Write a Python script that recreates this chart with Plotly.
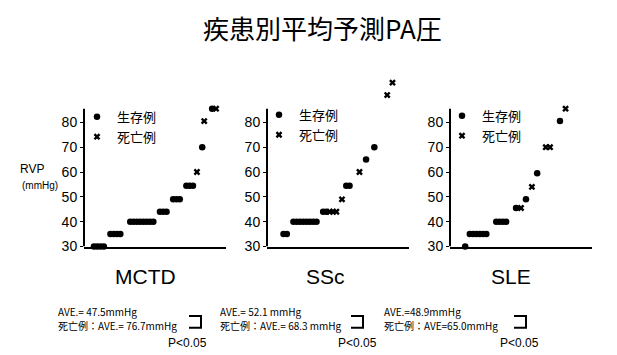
import plotly.graph_objects as go

W, H = 617, 355

title_text = "疾患別平均予測PA圧"
diseases = ["MCTD", "SSc", "SLE"]
legend_names = ["生存例", "死亡例"]
y_ticks = [30, 40, 50, 60, 70, 80]

# case order (x) and predicted PA pressure (y)
mctd_surv_x = [3, 4, 5, 6, 8, 9, 10, 11, 14, 15, 16, 17, 18, 19, 20, 21, 23, 24, 25, 27, 28, 29, 31, 32, 33, 35.8, 38.8]
mctd_surv_y = [30, 30, 30, 30, 35, 35, 35, 35, 40, 40, 40, 40, 40, 40, 40, 40, 44, 44, 44, 49, 49, 49, 54.5, 54.5, 54.5, 70, 85.5]
mctd_dead_x = [34.2, 36.4, 40]
mctd_dead_y = [60, 80.5, 85.5]

ssc_surv_x = [5, 6, 8, 9, 10, 11, 12, 13, 14, 15, 17, 18, 24, 25, 30, 32.5]
ssc_surv_y = [35, 35, 40, 40, 40, 40, 40, 40, 40, 40, 44, 44, 54.5, 54.5, 65, 70]
ssc_dead_x = [19, 20, 21, 22.7, 28, 36.4, 38]
ssc_dead_y = [44, 44, 44, 49, 60, 91, 96]

sle_surv_x = [4.6, 6, 7, 8, 9, 10, 11, 14, 15, 16, 17, 20, 23, 26.4, 33.3]
sle_surv_y = [30, 35, 35, 35, 35, 35, 35, 40, 40, 40, 40, 45.5, 49, 59.5, 80.5]
sle_dead_x = [21.5, 24.8, 29, 30.3, 35]
sle_dead_y = [45.5, 54, 70, 70, 85.5]

ave_lines = [
    ["AVE.= 47.5mmHg", "死亡例：AVE.= 76.7mmHg"],
    ["AVE.= 52.1 mmHg", "死亡例：AVE.= 68.3 mmHg"],
    ["AVE.=48.9mmHg", "死亡例：AVE=65.0mmHg"],
]
p_text = "P<0.05"

series = [
    (mctd_surv_x, mctd_surv_y, mctd_dead_x, mctd_dead_y),
    (ssc_surv_x, ssc_surv_y, ssc_dead_x, ssc_dead_y),
    (sle_surv_x, sle_surv_y, sle_dead_x, sle_dead_y),
]

JP = "Noto Sans CJK JP, sans-serif"
NUM = "Liberation Sans, Arial, sans-serif"

# layout in pixels
axis_left_px = [76, 259, 442]
axis_width_px = 142
px_per_unit = 2.54
y_bottom_px = 244
x_range = [0, 43]
y_range = [30, 98]
y_line_top = 85.5
y_top_px = y_bottom_px - (y_range[1] - y_range[0]) * px_per_unit

def px_x(p):
    return p / W

def px_y(p):
    return 1 - p / H

fig = go.Figure()
legend_keys = ["legend", "legend2", "legend3"]
for i, (sx, sy, dx, dy) in enumerate(series):
    xa = "x" if i == 0 else f"x{i+1}"
    ya = "y" if i == 0 else f"y{i+1}"
    fig.add_trace(go.Scatter(x=sx, y=sy, mode="markers", name=legend_names[0],
                             xaxis=xa, yaxis=ya, cliponaxis=False,
                             legend=legend_keys[i],
                             marker=dict(symbol="circle", size=6.5, color="black")))
    fig.add_trace(go.Scatter(x=dx, y=dy, mode="markers", name=legend_names[1],
                             xaxis=xa, yaxis=ya, cliponaxis=False,
                             legend=legend_keys[i],
                             marker=dict(symbol="x", size=6, color="black",
                                         line=dict(width=0))))

layout = dict(
    width=W, height=H, margin=dict(l=0, r=0, t=0, b=0),
    paper_bgcolor="white", plot_bgcolor="white",
    showlegend=True,
    font=dict(family=JP, color="black", size=12),
)
legend_pos = [(69, 96), (251, 94), (434, 95)]
shapes = []
for i in range(3):
    xk = "xaxis" if i == 0 else f"xaxis{i+1}"
    yk = "yaxis" if i == 0 else f"yaxis{i+1}"
    xa = "x" if i == 0 else f"x{i+1}"
    ya = "y" if i == 0 else f"y{i+1}"
    x0 = axis_left_px[i]
    layout[xk] = dict(domain=[px_x(x0), px_x(x0 + axis_width_px)], range=x_range,
                      anchor=ya,
                      showline=True, linewidth=2, linecolor="black",
                      showgrid=False, zeroline=False, showticklabels=False,
                      ticks="", fixedrange=True)
    layout[yk] = dict(domain=[px_y(y_bottom_px), px_y(y_top_px)], range=y_range,
                      anchor=xa,
                      showline=False,
                      showgrid=False, zeroline=False,
                      tickvals=y_ticks, ticks="outside", ticklen=3, tickwidth=1,
                      tickcolor="black",
                      tickfont=dict(family=NUM, size=14, color="black"))
    # y axis line only spans the labelled part of the scale
    shapes.append(dict(type="line", xref=f"{xa} domain", yref=ya,
                       x0=0, x1=0, y0=y_range[0], y1=y_line_top,
                       line=dict(color="black", width=2)))
    lx, ly = legend_pos[i]
    layout[legend_keys[i]] = dict(x=px_x(lx), y=px_y(ly), xanchor="left", yanchor="top",
                                  bgcolor="rgba(0,0,0,0)", itemwidth=30,
                                  font=dict(family=JP, size=13, color="black"))
fig.update_layout(**layout)

annotations = []
annotations.append(dict(text=title_text, x=px_x(314), y=px_y(20), xref="paper", yref="paper",
                        showarrow=False, font=dict(family=JP, size=26, color="black"),
                        xanchor="center", yanchor="middle"))
label_cx = [137, 318, 503]
for i, d in enumerate(diseases):
    annotations.append(dict(text=d, x=px_x(label_cx[i]), y=px_y(275), xref="paper", yref="paper",
                            showarrow=False, font=dict(family=NUM, size=21, color="black"),
                            xanchor="center", yanchor="middle"))
annotations.append(dict(text="RVP", x=px_x(24), y=px_y(165), xref="paper", yref="paper",
                        showarrow=False, font=dict(family=NUM, size=12, color="black"),
                        xanchor="center", yanchor="middle"))
annotations.append(dict(text="(mmHg)", x=px_x(32), y=px_y(182), xref="paper", yref="paper",
                        showarrow=False, font=dict(family=NUM, size=10, color="black"),
                        xanchor="center", yanchor="middle"))
text_left = [48, 210, 374]
p_cx = [180, 349, 511]
bracket_x = [(181, 193), (343, 355), (506, 518)]
line_y = [310.5, 325]
for i in range(3):
    for j in range(2):
        annotations.append(dict(text=ave_lines[i][j], x=px_x(text_left[i]), y=px_y(line_y[j]),
                                xref="paper", yref="paper", showarrow=False, align="left",
                                font=dict(family=JP, size=10, color="black"),
                                xanchor="left", yanchor="middle"))
    annotations.append(dict(text=p_text, x=px_x(p_cx[i]), y=px_y(343),
                            xref="paper", yref="paper", showarrow=False,
                            font=dict(family=NUM, size=12, color="black"),
                            xanchor="center", yanchor="middle"))
    bx0, bx1 = bracket_x[i]
    shapes.append(dict(type="path", xref="paper", yref="paper",
                       path=f"M {px_x(bx0)} {px_y(315)} L {px_x(bx1)} {px_y(315)} L {px_x(bx1)} {px_y(327)} L {px_x(bx0)} {px_y(327)}",
                       line=dict(color="black", width=2)))
fig.update_layout(annotations=annotations, shapes=shapes)

fig.write_html("out.html")
